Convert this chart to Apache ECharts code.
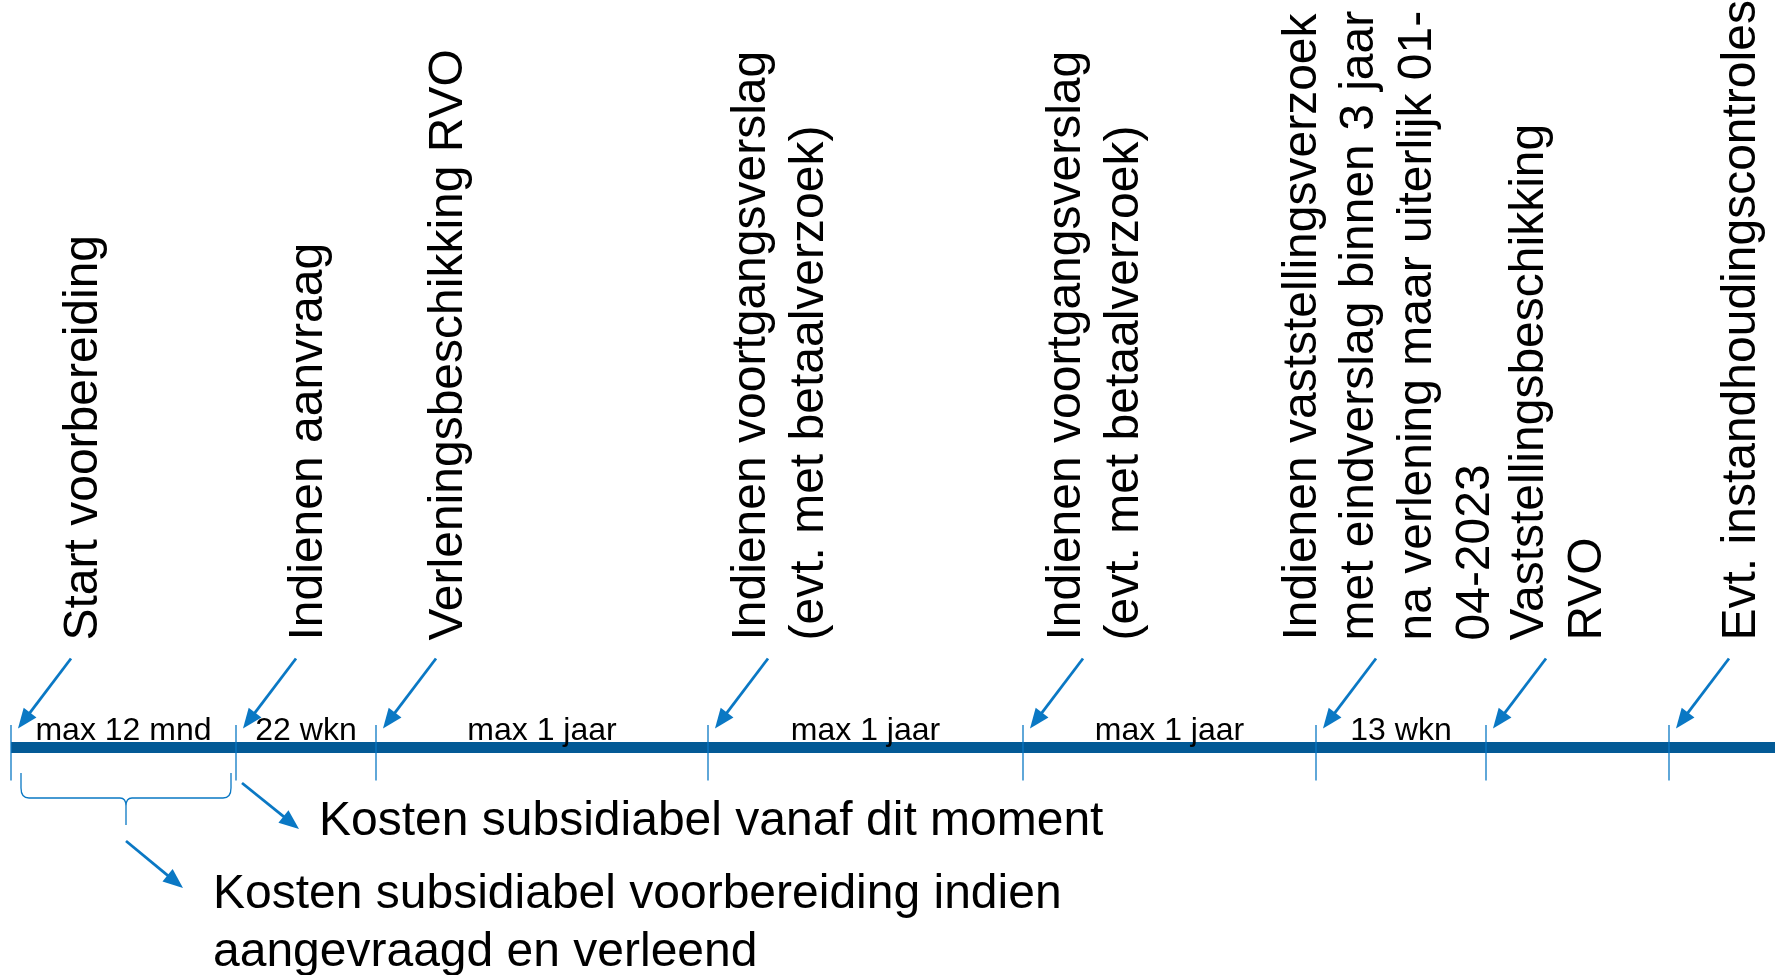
<!DOCTYPE html>
<html>
<head>
<meta charset="utf-8">
<script src="https://cdn.jsdelivr.net/npm/echarts@6/dist/echarts.min.js"></script>
<style>
html,body{margin:0;padding:0;background:#ffffff;}
#chart{width:1777px;height:975px;}
</style>
</head>
<body>
<div id="chart"></div>
<script>
// ---- data ----
const milestones = [
  'Start voorbereiding',
  'Indienen aanvraag',
  'Verleningsbeschikking RVO',
  'Indienen voortgangsverslag\n(evt. met betaalverzoek)',
  'Indienen voortgangsverslag\n(evt. met betaalverzoek)',
  'Indienen vaststellingsverzoek\nmet eindverslag binnen 3 jaar\nna verlening maar uiterlijk 01-\n04-2023',
  'Vaststellingsbeschikking\nRVO',
  'Evt. instandhoudingscontroles'
];
// schematic position of each milestone along the timeline (timeline units)
const milestoneAt = [0, 225, 365, 697, 1012, 1305, 1475, 1658];
const timelineEnd = 1764;
const periods = ['max 12 mnd', '22 wkn', 'max 1 jaar', 'max 1 jaar', 'max 1 jaar', '13 wkn'];
const notes = [
  'Kosten subsidiabel vanaf dit moment',
  'Kosten subsidiabel voorbereiding indien\naangevraagd en verleend'
];

// ---- styling ----
const FONT = '"Liberation Sans", Arial, Helvetica, sans-serif';
const BLUE = '#0a78c4';
const BAR = '#035a96';

function arrow(x1, y1, x2, y2, w, hl, hw) {
  const dx = x2 - x1, dy = y2 - y1, L = Math.hypot(dx, dy);
  const ux = dx / L, uy = dy / L;
  const bx = x2 - ux * hl, by = y2 - uy * hl;
  const px = -uy, py = ux;
  return [
    { type: 'line', shape: { x1: x1, y1: y1, x2: bx + ux * 2, y2: by + uy * 2 },
      style: { stroke: BLUE, lineWidth: w } },
    { type: 'polygon', shape: { points: [[x2, y2], [bx + px * hw, by + py * hw], [bx - px * hw, by - py * hw]] },
      style: { fill: BLUE } }
  ];
}

const periodMid = periods.map((p, i) => [(milestoneAt[i] + milestoneAt[i + 1]) / 2, 0]);

const chart = echarts.init(document.getElementById('chart'), null, { renderer: 'canvas' });
chart.setOption({
  animation: false,
  backgroundColor: '#ffffff',
  grid: { left: 11, right: 2, top: 0, bottom: 227.5 },
  xAxis: { type: 'value', min: 0, max: timelineEnd, show: false },
  yAxis: { type: 'value', min: 0, max: 1, show: false },
  series: [
    {
      name: 'timeline', type: 'line', silent: true, z: 1,
      data: [[0, 0], [timelineEnd, 0]],
      symbol: 'none',
      lineStyle: { color: BAR, width: 11, cap: 'butt' }
    },
    {
      name: 'milestones', type: 'custom', silent: true, z: 3, clip: false,
      data: milestoneAt.map(v => [v, 0]),
      renderItem: function (params, api) {
        const p = api.coord([api.value(0), 0]);
        const x = p[0], y = p[1];
        const i = params.dataIndex;
        return {
          type: 'group',
          children: [
            { type: 'line', shape: { x1: x, y1: y - 22.5, x2: x, y2: y + 33 },
              style: { stroke: BLUE, lineWidth: 1.3 } },
            ...arrow(x + 60, y - 89, x + 7, y - 19, 2.8, 20, 8),
            { type: 'text', x: x + 73, y: y - 107, rotation: Math.PI / 2,
              style: { text: milestones[i], font: '48px ' + FONT, fill: '#000000',
                       align: 'left', verticalAlign: 'middle', lineHeight: 57.6 } }
          ]
        };
      }
    },
    {
      name: 'periods', type: 'custom', silent: true, z: 2, clip: false,
      data: periodMid,
      renderItem: function (params, api) {
        const p = api.coord([api.value(0), 0]);
        return {
          type: 'text', x: p[0], y: p[1] - 16.7,
          style: { text: periods[params.dataIndex], font: '32px ' + FONT, fill: '#000000',
                   align: 'center', verticalAlign: 'middle' }
        };
      }
    },
    {
      name: 'notes', type: 'custom', silent: true, z: 3, clip: false,
      data: [[milestoneAt[0], milestoneAt[1]]],
      renderItem: function (params, api) {
        const a = api.coord([api.value(0), 0]);
        const b = api.coord([api.value(1), 0]);
        const y = a[1];
        const L = a[0] + 10, R = b[0] - 5, M = (L + R) / 2;
        const top = y + 25.5, mid = y + 50.5, stem = y + 77.5;
        const d = 'M' + L + ',' + top + ' L' + L + ',' + (mid - 10) +
          ' Q' + L + ',' + mid + ' ' + (L + 8) + ',' + mid +
          ' L' + (M - 6) + ',' + mid + ' Q' + M + ',' + mid + ' ' + M + ',' + (mid + 8) +
          ' L' + M + ',' + stem +
          ' M' + M + ',' + (mid + 8) + ' Q' + M + ',' + mid + ' ' + (M + 6) + ',' + mid +
          ' L' + (R - 8) + ',' + mid + ' Q' + R + ',' + mid + ' ' + R + ',' + (mid - 10) +
          ' L' + R + ',' + top;
        return {
          type: 'group',
          children: [
            { type: 'path', shape: { pathData: d }, style: { stroke: BLUE, lineWidth: 1.3, fill: null } },
            ...arrow(M, y + 93.5, M + 57, y + 140.5, 2.8, 20, 8),
            ...arrow(b[0] + 6, y + 35.5, b[0] + 63, y + 81.5, 2.8, 20, 8),
            { type: 'text', x: b[0] + 83, y: y + 74.5,
              style: { text: notes[0], font: '48px ' + FONT, fill: '#000000',
                       align: 'left', verticalAlign: 'middle' } },
            { type: 'text', x: M + 87, y: y + 118.5,
              style: { text: notes[1], font: '48px ' + FONT, fill: '#000000',
                       align: 'left', verticalAlign: 'top', lineHeight: 57.6 } }
          ]
        };
      }
    }
  ]
});
</script>
</body>
</html>
